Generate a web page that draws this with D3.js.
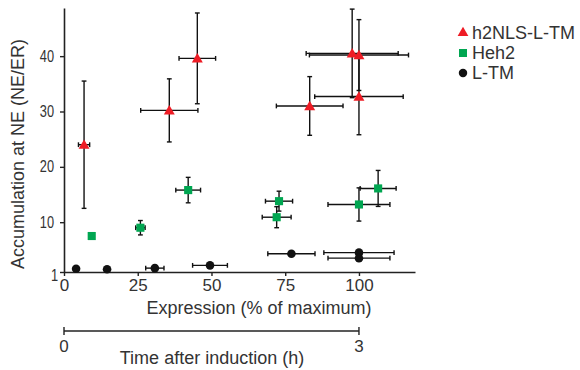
<!DOCTYPE html>
<html>
<head>
<meta charset="utf-8">
<script src="https://cdn.jsdelivr.net/npm/d3@7"></script>
<style>
  html, body { margin: 0; padding: 0; background: #fff; }
  svg { display: block; font-family: Arial, "Liberation Sans", Helvetica, sans-serif; }
</style>
</head>
<body>
<svg id="chart" width="580" height="370"></svg>
<script>
// Series: h2NLS-L-TM (red triangles)
const nlsX    = [6.8, 35.7, 45.2, 83.3, 97.7, 100.0, 100.0];
const nlsY    = [24.0, 30.2, 39.6, 31.0, 40.5, 40.2, 32.7];
const nlsXErr = [1.9, 9.7, 6.2, 11.3, 15.6, 16.8, 15.0];
const nlsYErr = [11.5, 5.7, 8.2, 5.3, 8.0, 6.4, 6.9];

// Series: Heh2 (green squares)
const hehX    = [9.4, 25.9, 42.1, 72.9, 72.1, 100.0, 106.5];
const hehY    = [7.5, 9.0, 15.8, 13.8, 10.9, 13.2, 16.1];
const hehXErr = [0, 1.6, 4.2, 4.6, 4.9, 10.5, 6.1];
const hehYErr = [0, 1.3, 2.3, 1.8, 1.9, 3.0, 3.25];

// Series: L-TM (black circles)
const ltmX    = [4.1, 14.6, 30.8, 49.5, 77.1, 100.0, 100.0];
const ltmY    = [1.6, 1.5, 1.7, 2.2, 4.3, 4.5, 3.5];
const ltmXErr = [0, 0, 3.1, 5.9, 8.0, 11.9, 10.5];
const ltmYErr = [0, 0, 0, 0, 0, 0, 0];

const seriesNames = ["h2NLS-L-TM", "Heh2", "L-TM"];
const seriesColors = ["#ee1c25", "#00a651", "#111111"];
const seriesShapes = [d3.symbolTriangle, d3.symbolSquare, d3.symbolCircle];

const xTicks = [0, 25, 50, 75, 100];
const yTicks = [1, 10, 20, 30, 40];
const timeTicks = [0, 3];

const xTitle = "Expression (% of maximum)";
const yTitle = "Accumulation at NE (NE/ER)";
const timeTitle = "Time after induction (h)";

const svg = d3.select("#chart");
const axisColor = "#222";
const textColor = "#333";

const x = d3.scaleLinear().domain([0, 119]).range([64, 415]);
const y = d3.scaleLinear().domain([1, 48.7]).range([272, 8]);
const t = d3.scaleLinear().domain([0, 3]).range([x(0), x(100)]);

// Axes
const xAxis = svg.append("g")
  .attr("transform", `translate(0,${y(1)})`)
  .call(d3.axisBottom(x).tickValues(xTicks).tickSize(4).tickPadding(3).tickSizeOuter(0));
xAxis.select(".domain").attr("stroke", axisColor).attr("stroke-width", 1.6);
xAxis.selectAll(".tick line").attr("stroke", axisColor).attr("stroke-width", 1.4);
xAxis.selectAll(".tick text").attr("fill", textColor).attr("font-size", 17).attr("font-family", "Arial, 'Liberation Sans', sans-serif");

const yAxis = svg.append("g")
  .attr("transform", `translate(${x(0)},0)`)
  .call(d3.axisLeft(y).tickValues(yTicks).tickSize(4).tickPadding(6).tickSizeOuter(0));
yAxis.select(".domain").attr("stroke", axisColor).attr("stroke-width", 1.6);
yAxis.selectAll(".tick line").attr("stroke", axisColor).attr("stroke-width", 1.4);
yAxis.selectAll(".tick text")
  .attr("fill", textColor)
  .attr("font-size", 16)
  .attr("font-family", "Arial, 'Liberation Sans', sans-serif")
  .attr("x", 0)
  .attr("transform", d => `translate(${d === 1 ? -6 : -10},${d === 1 ? 3 : 0}) scale(0.8,1)`);

// Axis titles
svg.append("text")
  .attr("transform", `translate(18,${154}) rotate(-90)`)
  .attr("text-anchor", "middle")
  .attr("dominant-baseline", "central")
  .attr("fill", textColor)
  .attr("font-size", 18)
  .text(yTitle);

svg.append("text")
  .attr("x", 259).attr("y", 314)
  .attr("text-anchor", "middle")
  .attr("fill", textColor)
  .attr("font-size", 18)
  .text(xTitle);

// Time axis below the expression axis
const timeY = 331;
const tg = svg.append("g");
tg.append("line")
  .attr("x1", t(0)).attr("x2", t(3))
  .attr("y1", timeY).attr("y2", timeY)
  .attr("stroke", axisColor).attr("stroke-width", 1.6);
tg.selectAll("line.tick").data(timeTicks).join("line")
  .attr("class", "tick")
  .attr("x1", d => t(d)).attr("x2", d => t(d))
  .attr("y1", timeY - 4).attr("y2", timeY + 4)
  .attr("stroke", axisColor).attr("stroke-width", 1.4);
tg.selectAll("text.tl").data(timeTicks).join("text")
  .attr("class", "tl")
  .attr("x", d => t(d)).attr("y", 352)
  .attr("text-anchor", "middle")
  .attr("fill", textColor)
  .attr("font-size", 17)
  .text(d => d);
svg.append("text")
  .attr("x", 212).attr("y", 364)
  .attr("text-anchor", "middle")
  .attr("fill", textColor)
  .attr("font-size", 18)
  .text(timeTitle);

// Build point records from the arrays
function makePoints(xs, ys, xe, ye) {
  return xs.map((v, i) => ({ x: v, y: ys[i], xe: xe[i], ye: ye[i] }));
}
const series = [
  makePoints(nlsX, nlsY, nlsXErr, nlsYErr),
  makePoints(hehX, hehY, hehXErr, hehYErr),
  makePoints(ltmX, ltmY, ltmXErr, ltmYErr)
];

const cap = 2.4;
const errG = svg.append("g").attr("stroke", "#111").attr("stroke-width", 1.4).attr("fill", "none");
series.forEach(pts => {
  pts.forEach(p => {
    if (p.xe > 0) {
      const x0 = x(p.x - p.xe), x1 = x(p.x + p.xe), yy = y(p.y);
      errG.append("line").attr("x1", x0).attr("x2", x1).attr("y1", yy).attr("y2", yy);
      errG.append("line").attr("x1", x0).attr("x2", x0).attr("y1", yy - cap).attr("y2", yy + cap);
      errG.append("line").attr("x1", x1).attr("x2", x1).attr("y1", yy - cap).attr("y2", yy + cap);
    }
    if (p.ye > 0) {
      const y0 = y(p.y - p.ye), y1 = y(p.y + p.ye), xx = x(p.x);
      errG.append("line").attr("x1", xx).attr("x2", xx).attr("y1", y0).attr("y2", y1);
      errG.append("line").attr("x1", xx - cap).attr("x2", xx + cap).attr("y1", y0).attr("y2", y0);
      errG.append("line").attr("x1", xx - cap).attr("x2", xx + cap).attr("y1", y1).attr("y2", y1);
    }
  });
});

// Markers
const markerSizes = [52, 66, 58];
series.forEach((pts, si) => {
  svg.append("g").selectAll("path").data(pts).join("path")
    .attr("transform", d => `translate(${x(d.x)},${y(d.y) + (si === 0 ? 1 : 0)})`)
    .attr("d", d3.symbol().type(seriesShapes[si]).size(markerSizes[si]))
    .attr("fill", seriesColors[si]);
});

// Legend
const legend = svg.append("g").attr("transform", "translate(463,33)");
seriesNames.forEach((name, i) => {
  const row = legend.append("g").attr("transform", `translate(0,${i * 20})`);
  row.append("path")
    .attr("d", d3.symbol().type(seriesShapes[i]).size([50, 64, 56][i]))
    .attr("fill", seriesColors[i]);
  row.append("text")
    .attr("x", 9).attr("y", 0)
    .attr("dominant-baseline", "central")
    .attr("fill", textColor)
    .attr("font-size", 18)
    .text(name);
});
</script>
</body>
</html>
